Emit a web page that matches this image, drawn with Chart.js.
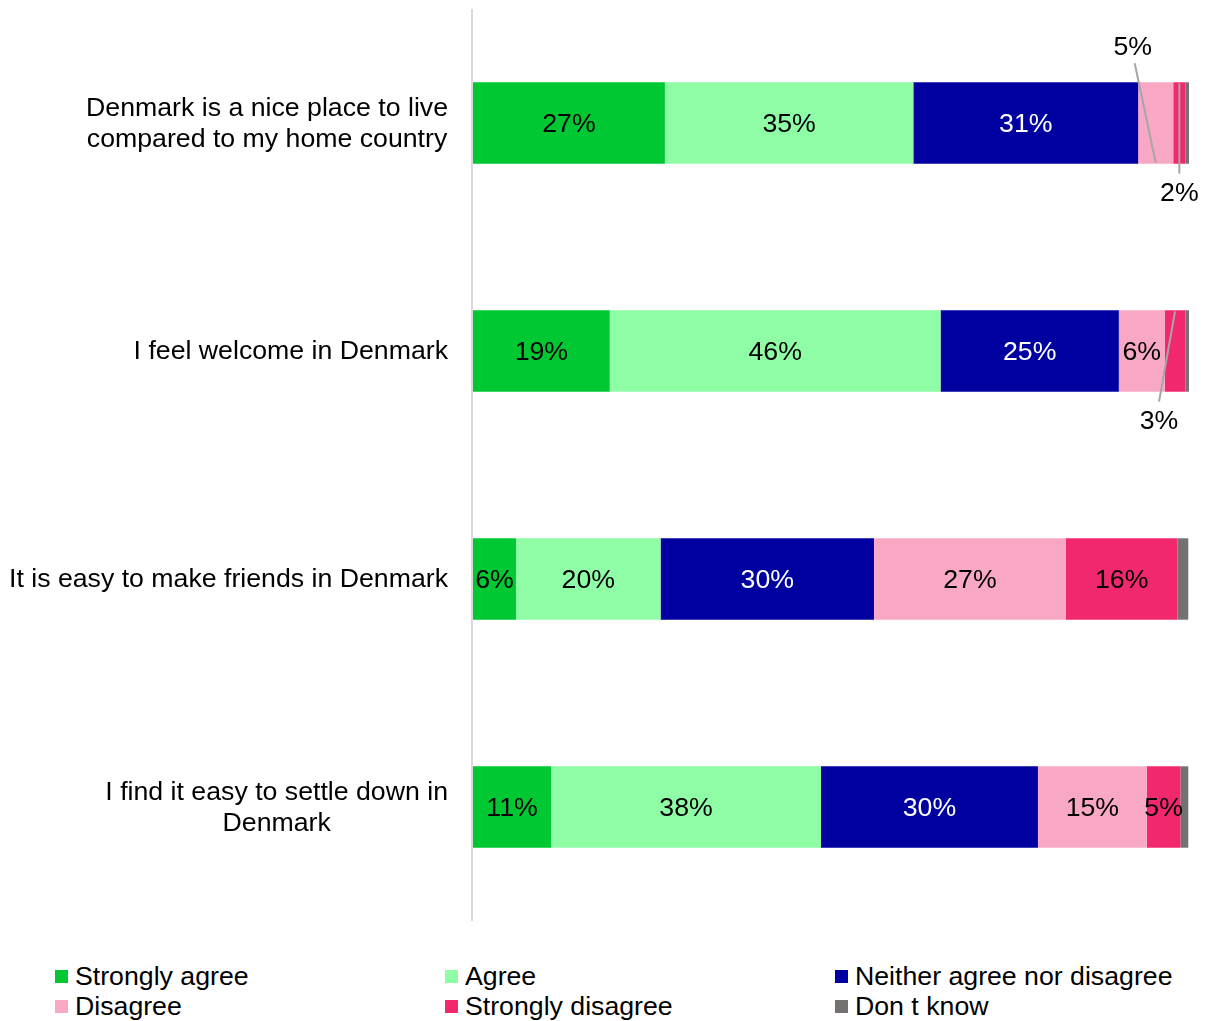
<!DOCTYPE html>
<html>
<head>
<meta charset="utf-8">
<script src="https://cdn.jsdelivr.net/npm/chart.js@4"></script>
<style>
  html, body { margin: 0; padding: 0; background: #fff; }
  body { width: 1211px; height: 1021px; position: relative; overflow: hidden; font-family: "Liberation Sans", Arial, sans-serif; }
  #wrap { position: absolute; left: 0; top: 0; width: 1211px; height: 940px; }
  .leg { position: absolute; display: flex; align-items: center; font-size: 26.7px; line-height: 30px; color: #000; white-space: nowrap; }
  .leg span.box { display: inline-block; width: 13px; height: 13px; margin-right: 7px; }
</style>
</head>
<body>
<div id="wrap"><canvas id="chart"></canvas></div>
<div id="legend"></div>
<script>
// Survey statements (top to bottom)
const categories = [
    ['Denmark is a nice place to live', 'compared to my home country'],
    ['I feel welcome in Denmark'],
    ['It is easy to make friends in Denmark'],
    ['I find it easy to settle down in', 'Denmark']
];

const seriesNames = ['Strongly agree', 'Agree', 'Neither agree nor disagree', 'Disagree', 'Strongly disagree', 'Don t know'];
const seriesColors = ['#00C832', '#8FFDA5', '#0000A0', '#F8A8C4', '#F2286E', '#767171'];
const labelColors = ['#000', '#000', '#fff', '#000', '#000', '#000'];

// Share of answers in percent, one value per statement
const stronglyAgree = [26.8, 19.1, 6.0, 10.9];
const agree = [34.7, 46.2, 20.2, 37.7];
const neither = [31.4, 24.9, 29.8, 30.3];
const disagree = [4.9, 6.4, 26.8, 15.2];
const stronglyDisagree = [1.7, 2.9, 15.6, 4.7];
const dontKnow = [0.5, 0.5, 1.5, 1.1];

const seriesValues = [stronglyAgree, agree, neither, disagree, stronglyDisagree, dontKnow];

// Small segments whose label sits outside the bar with a leader line
const callouts = [
    { series: 3, bar: 0, side: 'above', dx: -23 },
    { series: 4, bar: 0, side: 'below', dx: 0 },
    { series: 4, bar: 1, side: 'below', dx: -16 }
];

const FONT = '26.7px "Liberation Sans", Arial, sans-serif';

/**
 * Category labels, centred as a block and right-aligned to the axis
 */
const categoryLabels = {
    id: 'categoryLabels',
    afterDraw(chart) {
        const ctx = chart.ctx;
        const yScale = chart.scales.y;
        const right = chart.chartArea.left - 25;
        ctx.save();
        ctx.font = FONT;
        ctx.fillStyle = '#000';
        ctx.textAlign = 'center';
        ctx.textBaseline = 'middle';
        categories.forEach((lines, i) => {
            const maxW = Math.max(...lines.map(l => ctx.measureText(l).width));
            const cx = right - maxW / 2;
            const cy = yScale.getPixelForValue(i) + 1;
            const lh = 31;
            lines.forEach((l, k) => {
                ctx.fillText(l, cx, cy + (k - (lines.length - 1) / 2) * lh);
            });
        });
        ctx.restore();
    }
};

/**
 * Axis line along the left of the plot
 */
const axisLine = {
    id: 'axisLine',
    beforeDatasetsDraw(chart) {
        const { ctx, chartArea } = chart;
        ctx.save();
        ctx.strokeStyle = '#D9D9D9';
        ctx.lineWidth = 2;
        ctx.beginPath();
        ctx.moveTo(chartArea.left - 1, chartArea.top);
        ctx.lineTo(chartArea.left - 1, chartArea.bottom);
        ctx.stroke();
        ctx.restore();
    }
};

/**
 * Value labels inside segments, plus callouts for thin ones
 */
const valueLabels = {
    id: 'valueLabels',
    afterDatasetsDraw(chart) {
        const ctx = chart.ctx;
        ctx.save();
        ctx.font = FONT;
        ctx.textAlign = 'center';
        ctx.textBaseline = 'middle';
        chart.data.datasets.forEach((ds, si) => {
            const meta = chart.getDatasetMeta(si);
            meta.data.forEach((el, bi) => {
                const p = el.getProps(['x', 'y', 'base', 'height'], true);
                const value = ds.data[bi];
                const text = Math.round(value) + '%';
                const cx = (p.x + p.base) / 2;
                const top = p.y - p.height / 2;
                const bottom = p.y + p.height / 2;
                const co = callouts.find(c => c.series === si && c.bar === bi);
                if (co) {
                    const lx = cx + co.dx;
                    ctx.strokeStyle = '#A6A6A6';
                    ctx.lineWidth = 2;
                    ctx.beginPath();
                    let ly;
                    if (co.side === 'above') {
                        ly = top - 35;
                        ctx.moveTo(lx + 2, ly + 16);
                        ctx.lineTo(cx, bottom - 1);
                    } else {
                        ly = bottom + 30;
                        ctx.moveTo(cx, top + 1);
                        ctx.lineTo(lx, ly - 20);
                    }
                    ctx.stroke();
                    ctx.fillStyle = '#000';
                    ctx.fillText(text, lx, ly);
                    return;
                }
                if (si === 5) return; // "Don t know" is not labelled
                ctx.fillStyle = labelColors[si];
                ctx.fillText(text, cx, p.y + 2);
            });
        });
        ctx.restore();
    }
};

new Chart(document.getElementById('chart'), {
    type: 'bar',
    data: {
        labels: categories.map(c => c.join(' ')),
        datasets: seriesNames.map((name, i) => ({
            label: name,
            data: seriesValues[i],
            backgroundColor: seriesColors[i],
            borderWidth: 0,
            categoryPercentage: 1,
            barPercentage: 0.357
        }))
    },
    options: {
        indexAxis: 'y',
        responsive: true,
        maintainAspectRatio: false,
        animation: false,
        layout: {
            padding: { left: 473, right: 22, top: 9, bottom: 19 }
        },
        scales: {
            x: { stacked: true, min: 0, max: 100, display: false },
            y: { stacked: true, display: false }
        },
        plugins: {
            legend: { display: false },
            tooltip: { enabled: false }
        }
    },
    plugins: [axisLine, valueLabels, categoryLabels]
});

// Legend: three columns, two rows
const legend = document.getElementById('legend');
const legendCols = [55, 445, 835];
const legendRows = [961, 991];
seriesNames.forEach((name, i) => {
    const item = document.createElement('div');
    item.className = 'leg';
    item.style.left = legendCols[i % 3] + 'px';
    item.style.top = legendRows[Math.floor(i / 3)] + 'px';
    const box = document.createElement('span');
    box.className = 'box';
    box.style.background = seriesColors[i];
    item.appendChild(box);
    item.appendChild(document.createTextNode(name));
    legend.appendChild(item);
});
</script>
</body>
</html>
